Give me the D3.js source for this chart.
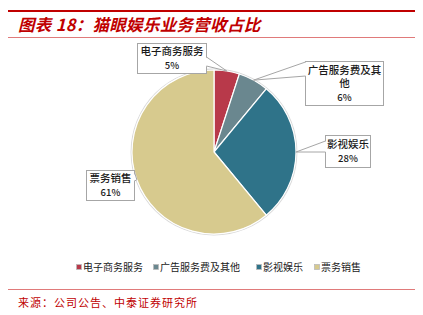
<!DOCTYPE html>
<html>
<head>
<meta charset="utf-8">
<script src="https://cdn.jsdelivr.net/npm/d3@7"></script>
<style>
  body { margin: 0; background: #fff; }
  svg { display: block; font-family: "Noto Sans CJK SC", "DejaVu Sans", sans-serif; }
</style>
</head>
<body>
<div id="chart"></div>
<script>
// data
var categories = ["电子商务服务", "广告服务费及其他", "影视娱乐", "票务销售"];
var shares = [5, 6, 28, 61];
var colors = ["#B8394A", "#6A878F", "#2F7389", "#D7CA8E"];

// label boxes (layout only)
var boxes = [
  { x: 137, y: 43, w: 69, h: 30, lines: ["电子商务服务"], side: "right", b0: 57, b1: 66 },
  { x: 305, y: 61, w: 78, h: 44, lines: ["广告服务费及其", "他"], side: "left", b0: 62, b1: 76 },
  { x: 325, y: 135, w: 45, h: 32, lines: ["影视娱乐"], side: "left", b0: 141, b1: 152 },
  { x: 86, y: 170, w: 48, h: 30, lines: ["票务销售"], side: "right", b0: 172, b1: 181 }
];

var width = 423, height = 315;
var cx = 214, cy = 152, radius = 82;

var svg = d3.select("#chart").append("svg")
    .attr("width", width)
    .attr("height", height);

// header / footer rules
svg.append("line").attr("x1", 8).attr("x2", 415).attr("y1", 11).attr("y2", 11)
    .attr("stroke", "#C00000").attr("stroke-width", 2.2);
svg.append("line").attr("x1", 8).attr("x2", 415).attr("y1", 37.5).attr("y2", 37.5)
    .attr("stroke", "#E07A7A").attr("stroke-width", 1);
svg.append("line").attr("x1", 8).attr("x2", 415).attr("y1", 289.5).attr("y2", 289.5)
    .attr("stroke", "#E07A7A").attr("stroke-width", 1);

svg.append("text")
    .attr("x", 18).attr("y", 31)
    .attr("fill", "#C00000")
    .style("font-size", "16.5px")
    .style("font-weight", "bold")
    .style("font-style", "italic")
    .style("letter-spacing", "0.3px")
    .text("图表 18：猫眼娱乐业务营收占比");

svg.append("text")
    .attr("x", 18).attr("y", 307)
    .attr("fill", "#C00000")
    .style("font-size", "11px")
    .style("letter-spacing", "1px")
    .text("来源：公司公告、中泰证券研究所");

// pie
var pie = d3.pie().sort(null).value(function(d) { return d; });
var arc = d3.arc().innerRadius(0).outerRadius(radius);
var arcs = pie(shares);

var g = svg.append("g").attr("transform", "translate(" + cx + "," + cy + ")");

g.append("circle").attr("r", radius + 0.8)
    .attr("fill", "none").attr("stroke", "#D8D8D8").attr("stroke-width", 1.2);

g.selectAll("path.slice")
    .data(arcs)
  .enter().append("path")
    .attr("class", "slice")
    .attr("d", arc)
    .attr("fill", function(d, i) { return colors[i]; })
    .attr("stroke", "#fff")
    .attr("stroke-width", 1.2);

// callout labels
var lab = svg.append("g");
arcs.forEach(function(d, i) {
  var b = boxes[i];
  var mid = (d.startAngle + d.endAngle) / 2;
  var tip = [cx + Math.sin(mid) * radius, cy - Math.cos(mid) * radius];
  var ex = b.side === "right" ? b.x + b.w : b.x;

  lab.append("rect")
      .attr("x", b.x + 0.5).attr("y", b.y + 0.5)
      .attr("width", b.w).attr("height", b.h)
      .attr("fill", "#fff").attr("stroke", "#A6A6A6").attr("stroke-width", 1);

  var inset = b.side === "right" ? -1 : 1;
  lab.append("path")
      .attr("d", "M" + (ex + 0.5 + inset) + "," + b.b0 + "L" + tip[0] + "," + tip[1] + "L" + (ex + 0.5 + inset) + "," + b.b1 + "Z")
      .attr("fill", "#fff").attr("stroke", "none");
  lab.append("path")
      .attr("d", "M" + (ex + 0.5) + "," + b.b0 + "L" + tip[0] + "," + tip[1] + "L" + (ex + 0.5) + "," + b.b1)
      .attr("fill", "none").attr("stroke", "#A6A6A6").attr("stroke-width", 1);

  var lines = b.lines.concat([shares[i] + "%"]);
  var lh = 13.5;
  var top = b.y + b.h / 2 - (lines.length - 1) * lh / 2 + 4;
  lines.forEach(function(t, k) {
    lab.append("text")
        .attr("x", b.x + b.w / 2 + 0.5)
        .attr("y", top + k * lh)
        .attr("text-anchor", "middle")
        .attr("fill", "#1a1a1a")
        .style("font-size", k === lines.length - 1 ? "9.5px" : "10.5px")
        .style("font-weight", "500")
        .text(t);
  });
});

// legend
var legendX = [76, 153, 256, 314];
var legend = svg.append("g");
categories.forEach(function(c, i) {
  legend.append("rect")
      .attr("x", legendX[i] + 0.5).attr("y", 264.5)
      .attr("width", 5).attr("height", 5)
      .attr("fill", colors[i])
      .attr("stroke", "#BBBBBB").attr("stroke-width", 0.8);
  legend.append("text")
      .attr("x", legendX[i] + 7).attr("y", 271)
      .attr("fill", "#1a1a1a")
      .style("font-size", "10px")
      .text(c);
});
</script>
</body>
</html>
